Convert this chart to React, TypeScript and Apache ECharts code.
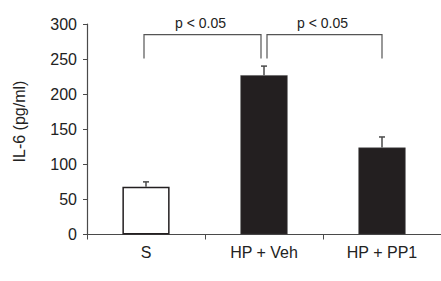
import React, { useEffect, useRef } from "react";
import * as echarts from "echarts";

const categories = ["S", "HP + Veh", "HP + PP1"];
const means = [68, 227, 124];
const errorTops = [75, 240, 139];
const yTicks = { min: 0, max: 300, interval: 50 };
const comparisons = [
  { from: 0, to: 1, low: 251, high: 285, label: "p < 0.05" },
  { from: 1, to: 2, low: 251, high: 285, label: "p < 0.05" },
];
const yName = "IL-6 (pg/ml)";

const FONT = "'Liberation Sans', Arial, Helvetica, sans-serif";
const DARK = "#231f20";
const AXIS = "#4a4a4a";

export default function App() {
  const ref = useRef<HTMLDivElement>(null);
  useEffect(() => {
    if (!ref.current) return;
    const chart = echarts.init(ref.current, undefined, { renderer: "svg" });
    const option: any = {
      animation: false,
      backgroundColor: "#ffffff",
      grid: { left: 87, top: 24, width: 360, height: 210.5, containLabel: false },
      xAxis: {
        type: "category",
        data: categories,
        boundaryGap: true,
        axisLine: { show: true, lineStyle: { color: AXIS, width: 1.2 } },
        axisTick: { show: true, length: 5, alignWithLabel: false, lineStyle: { color: AXIS } },
        axisLabel: { fontSize: 16, color: "#222", fontFamily: FONT, margin: 10 },
        splitLine: { show: false },
      },
      yAxis: {
        type: "value",
        min: yTicks.min,
        max: yTicks.max,
        interval: yTicks.interval,
        axisLine: { show: true, lineStyle: { color: AXIS, width: 1.2 } },
        axisTick: { show: true, length: 4, lineStyle: { color: AXIS } },
        axisLabel: { fontSize: 16, color: "#222", fontFamily: FONT, margin: 10 },
        splitLine: { show: false },
      },
      graphic: [
        {
          type: "text",
          x: 19,
          y: 121.5,
          rotation: Math.PI / 2,
          style: {
            text: yName,
            fontSize: 16,
            fontFamily: FONT,
            fill: "#222",
            align: "center",
            verticalAlign: "middle",
          },
        },
      ],
      series: [
        {
          type: "bar",
          barWidth: "40%",
          data: means.map((v, i) => ({
            value: v,
            itemStyle:
              i === 0
                ? { color: "#ffffff", borderColor: DARK, borderWidth: 1.5 }
                : { color: DARK, borderColor: "#555", borderWidth: 0.5 },
          })),
          z: 2,
        },
        {
          type: "custom",
          clip: false,
          z: 3,
          data: means.map((m, i) => [i, m, errorTops[i]]),
          renderItem: (params: any, api: any) => {
            const base = api.coord([api.value(0), api.value(1)]);
            const top = api.coord([api.value(0), api.value(2)]);
            const st = { stroke: AXIS, lineWidth: 1.5 };
            return {
              type: "group",
              children: [
                { type: "line", shape: { x1: base[0], y1: base[1], x2: top[0], y2: top[1] }, style: st },
                { type: "line", shape: { x1: top[0] - 3, y1: top[1], x2: top[0] + 3, y2: top[1] }, style: st },
              ],
            };
          },
        },
        {
          type: "custom",
          clip: false,
          z: 3,
          data: comparisons.map((c) => [c.from, c.to, c.low, c.high]),
          renderItem: (params: any, api: any) => {
            const idx = params.dataIndex;
            const dx = idx === 0 ? [-2, -3] : [3, 0];
            const a = api.coord([api.value(0), api.value(2)]);
            const b = api.coord([api.value(1), api.value(2)]);
            const h = api.coord([api.value(0), api.value(3)]);
            const x1 = a[0] + dx[0];
            const x2 = b[0] + dx[1];
            const st = { stroke: "#555", lineWidth: 1.2, fill: null };
            return {
              type: "group",
              children: [
                {
                  type: "polyline",
                  shape: { points: [[x1, a[1]], [x1, h[1]], [x2, h[1]], [x2, b[1]]] },
                  style: st,
                },
                {
                  type: "text",
                  style: {
                    text: comparisons[idx].label,
                    x: (x1 + x2) / 2 - 2,
                    y: h[1] - 12,
                    fontSize: 14,
                    fontFamily: FONT,
                    fill: "#222",
                    align: "center",
                    verticalAlign: "middle",
                  },
                },
              ],
            };
          },
        },
      ],
    };
    chart.setOption(option);
    return () => chart.dispose();
  }, []);
  return (
    <div
      ref={ref}
      style={{ position: "fixed", left: 0, top: 0, width: 441, height: 281, background: "#fff" }}
    />
  );
}
